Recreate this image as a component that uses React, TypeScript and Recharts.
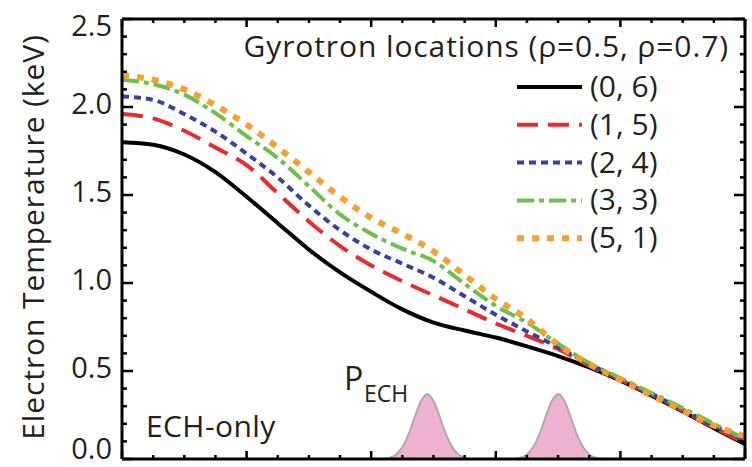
import React from 'react';
import { ComposedChart, Line, Area, XAxis, YAxis } from 'recharts';

// normalized radius rho
const rho = [0, 0.05, 0.1, 0.15, 0.2, 0.25, 0.3, 0.35, 0.4, 0.45, 0.5, 0.55, 0.6, 0.65, 0.7, 0.75, 0.8, 0.85, 0.9, 0.95, 1.0];
// electron temperature (keV) for each gyrotron split (rho=0.5, rho=0.7)
const te06 = [1.80, 1.785, 1.73, 1.63, 1.49, 1.34, 1.19, 1.06, 0.95, 0.85, 0.775, 0.73, 0.69, 0.64, 0.585, 0.52, 0.445, 0.36, 0.27, 0.175, 0.085];
const te15 = [1.96, 1.935, 1.865, 1.77, 1.67, 1.51, 1.35, 1.21, 1.10, 1.01, 0.93, 0.85, 0.77, 0.70, 0.625, 0.53, 0.45, 0.365, 0.275, 0.18, 0.09];
const te24 = [2.06, 2.04, 1.96, 1.86, 1.735, 1.60, 1.44, 1.30, 1.19, 1.11, 1.03, 0.925, 0.82, 0.725, 0.635, 0.54, 0.455, 0.37, 0.28, 0.19, 0.105];
const te33 = [2.155, 2.13, 2.07, 1.965, 1.835, 1.71, 1.55, 1.39, 1.28, 1.195, 1.125, 0.995, 0.87, 0.775, 0.655, 0.545, 0.46, 0.375, 0.29, 0.20, 0.115];
const te51 = [2.18, 2.155, 2.10, 2.01, 1.90, 1.77, 1.63, 1.49, 1.37, 1.28, 1.18, 1.045, 0.91, 0.795, 0.65, 0.54, 0.45, 0.36, 0.275, 0.19, 0.13];

// ECH power deposition profiles (arbitrary units on the keV axis)
const pechRho1 = [0.42, 0.43, 0.44, 0.45, 0.46, 0.47, 0.48, 0.49, 0.50, 0.51, 0.52, 0.53, 0.54, 0.55, 0.56];
const pechRho2 = [0.63, 0.64, 0.65, 0.66, 0.67, 0.68, 0.69, 0.70, 0.71, 0.72, 0.73, 0.74, 0.75, 0.76, 0.77];
const pechPower = [0.0, 0.008, 0.026, 0.068, 0.14, 0.24, 0.33, 0.37, 0.33, 0.24, 0.14, 0.068, 0.026, 0.008, 0.0];

const seriesLabels = ['(0, 6)', '(1, 5)', '(2, 4)', '(3, 3)', '(5, 1)'];
const legendTitle = 'Gyrotron locations (\u03C1=0.5, \u03C1=0.7)';
const yLabel = 'Electron Temperature (keV)';

const yTicks = [0, 0.5, 1.0, 1.5, 2.0, 2.5];
const yMinorTicks = [0, 0.1, 0.2, 0.3, 0.4, 0.5, 0.6, 0.7, 0.8, 0.9, 1.0, 1.1, 1.2, 1.3, 1.4, 1.5, 1.6, 1.7, 1.8, 1.9, 2.0, 2.1, 2.2, 2.3, 2.4, 2.5];
const xTicks = [0, 0.2, 0.4, 0.6, 0.8, 1.0];
const xMinorTicks = [0, 0.05, 0.1, 0.15, 0.2, 0.25, 0.3, 0.35, 0.4, 0.45, 0.5, 0.55, 0.6, 0.65, 0.7, 0.75, 0.8, 0.85, 0.9, 0.95, 1.0];

const seriesValues = [te06, te15, te24, te33, te51];
const seriesStyles = [
  { color: '#000000', dash: undefined as string | undefined, width: 4 },
  { color: '#EC2A2E', dash: '21 10', width: 4 },
  { color: '#3B3F9F', dash: '7 5', width: 4 },
  { color: '#69C04A', dash: '17 5 5 5', width: 4 },
  { color: '#F7A032', dash: '7 8', width: 6 },
];

const toRows = (xs: number[], ys: number[]) => xs.map((x, i) => ({ x, y: ys[i] }));
const pech1 = pechRho1.map((x, i) => ({ x, p: pechPower[i] }));
const pech2 = pechRho2.map((x, i) => ({ x, p: pechPower[i] }));

const FONT = '"Open Sans", "Noto Sans", sans-serif';
const TEXT = '#231f20';
const AX = { stroke: '#000', strokeWidth: 3 };

type Side = 'bottom' | 'top' | 'left' | 'right';
const makeTick = (side: Side, majors: number[], majorLen: number, minorLen: number, withLabel = false) =>
  (props: any) => {
    const { x, y, payload } = props;
    const v = payload.value as number;
    const isMajor = majors.some((m) => Math.abs(m - v) < 1e-6);
    const len = isMajor ? majorLen : minorLen;
    let x2 = x;
    let y2 = y;
    if (side === 'bottom') y2 = y - len;
    if (side === 'top') y2 = y + len;
    if (side === 'left') x2 = x + len;
    if (side === 'right') x2 = x - len;
    return (
      <g>
        <line x1={x} y1={y} x2={x2} y2={y2} stroke="#000" strokeWidth={2.5} />
        {withLabel && isMajor && (
          <text x={x - 10} y={Math.min(Math.max(y + 7, 36), 459)} textAnchor="end" fontSize={29} fontFamily={FONT} fill={TEXT}>
            {v.toFixed(1)}
          </text>
        )}
      </g>
    );
  };

export default function App() {
  return (
    <div style={{ position: 'absolute', left: 0, top: 0, width: 752, height: 467, background: '#fff' }}>
      <ComposedChart width={752} height={467} margin={{ top: 0, right: 0, bottom: 0, left: 0 }}>
        <XAxis xAxisId="b" dataKey="x" type="number" domain={[0, 1]} ticks={xMinorTicks} interval={0} orientation="bottom"
          height={8} tickSize={0} tickMargin={0} tickLine={false} axisLine={AX} allowDataOverflow
          tick={makeTick('bottom', xTicks, 8, 4)} />
        <XAxis xAxisId="t" dataKey="x" type="number" domain={[0, 1]} ticks={xMinorTicks} interval={0} orientation="top"
          height={19} tickSize={0} tickMargin={0} tickLine={false} axisLine={AX} allowDataOverflow
          tick={makeTick('top', xTicks, 8, 4)} />
        <YAxis yAxisId="l" type="number" domain={[0, 2.5]} ticks={yMinorTicks} interval={0} orientation="left" width={122}
          tickSize={0} tickMargin={0} tickLine={false} axisLine={AX} allowDataOverflow
          tick={makeTick('left', yTicks, 11, 5, true)} />
        <YAxis yAxisId="r" type="number" domain={[0, 2.5]} ticks={yMinorTicks} interval={0} orientation="right" width={7}
          tickSize={0} tickMargin={0} tickLine={false} axisLine={AX} allowDataOverflow
          tick={makeTick('right', yTicks, 11, 5)} />

        <Area xAxisId="b" yAxisId="l" data={pech1} dataKey="p" type="monotone" fill="#F0B2D3" fillOpacity={1}
          stroke="#ABABAB" strokeWidth={2} isAnimationActive={false} dot={false} activeDot={false} />
        <Area xAxisId="b" yAxisId="l" data={pech2} dataKey="p" type="monotone" fill="#F0B2D3" fillOpacity={1}
          stroke="#ABABAB" strokeWidth={2} isAnimationActive={false} dot={false} activeDot={false} />

        {seriesValues.map((vals, i) => (
          <Line key={seriesLabels[i]} xAxisId="b" yAxisId="l" data={toRows(rho, vals)} dataKey="y" name={seriesLabels[i]}
            type="monotone" stroke={seriesStyles[i].color} strokeWidth={seriesStyles[i].width}
            strokeDasharray={seriesStyles[i].dash} dot={false} activeDot={false} isAnimationActive={false} />
        ))}
      </ComposedChart>

      <svg width={752} height={467} style={{ position: 'absolute', left: 0, top: 0, pointerEvents: 'none' }}
        fontFamily={FONT} fill={TEXT}>
        <text transform="translate(43.5,237) rotate(-90)" textAnchor="middle" fontSize={30} letterSpacing={0.9}>{yLabel}</text>
        <text x={729} y={57} textAnchor="end" fontSize={30} letterSpacing={0.9}>{legendTitle}</text>
        {seriesLabels.map((lab, i) => {
          const y = 87 + i * 37.8;
          const s = seriesStyles[i];
          return (
            <g key={lab}>
              <line x1={517} x2={582} y1={y} y2={y} stroke={s.color} strokeWidth={s.width} strokeDasharray={s.dash} />
              <text x={590} y={y + 10} fontSize={30}>{lab}</text>
            </g>
          );
        })}
        <text x={344} y={390} fontSize={32}>P</text>
        <text x={364} y={402} fontSize={23}>ECH</text>
        <text x={146} y={437} fontSize={30} letterSpacing={0.4}>ECH-only</text>
      </svg>
    </div>
  );
}
